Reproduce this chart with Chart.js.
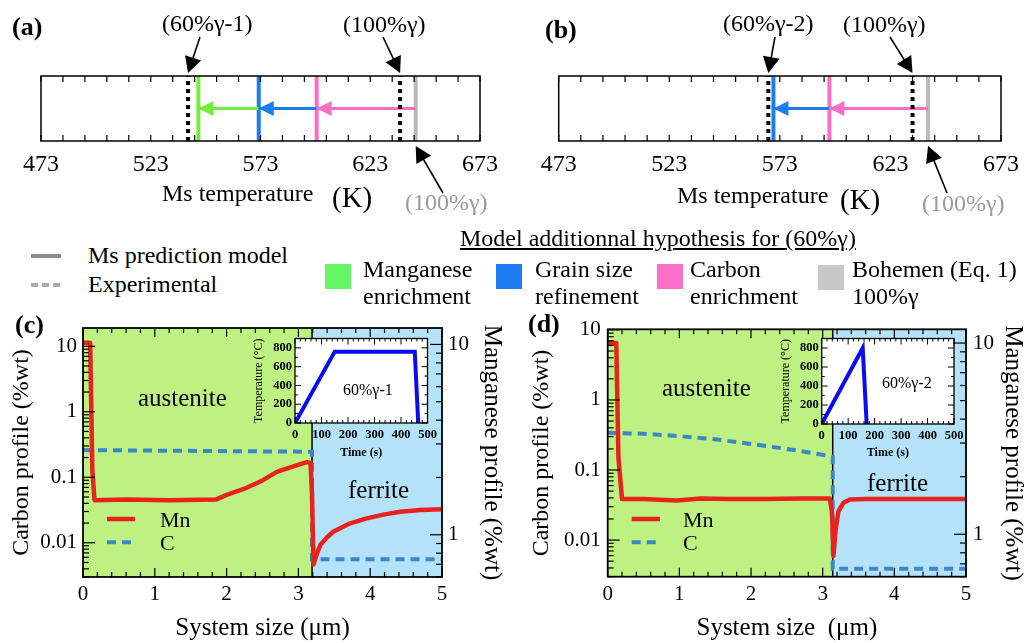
<!DOCTYPE html>
<html lang="en">
<head>
<meta charset="UTF-8">
<title>Ms temperature and composition profiles</title>
<style>
  body { margin: 0; background: #fff; font-family: "Liberation Serif", "Times New Roman", serif; }
  #page { position: relative; width: 1029px; height: 643px; overflow: hidden; background: #fff; }
  canvas { position: absolute; }
  .t { position: absolute; white-space: nowrap; color: #000; z-index: 5; }
  .f24 { font-size: 24px; line-height: 30px; }
  .f25 { font-size: 25px; line-height: 30px; }
  .f22 { font-size: 22px; line-height: 28px; }
  .f29 { font-size: 29px; line-height: 36px; }
  .f16 { font-size: 16px; line-height: 20px; }
  .lbl { font-size: 26px; line-height: 32px; font-weight: bold; }
  .grey { color: #9a9a9a; }
  .two { font-size: 24px; line-height: 27px; }
  .sq { position: absolute; width: 26px; height: 25px; z-index: 5; }
</style>
</head>
<body>
<div id="page">
  <canvas id="chartA" width="515" height="225" style="left:0;top:0"></canvas>
  <canvas id="chartB" width="514" height="225" style="left:515px;top:0"></canvas>
  <canvas id="chartC" width="515" height="343" style="left:0;top:300px"></canvas>
  <canvas id="chartD" width="514" height="343" style="left:515px;top:300px"></canvas>
  <canvas id="insetC" width="195" height="135" style="left:248px;top:328px;z-index:3"></canvas>
  <canvas id="insetD" width="195" height="135" style="left:775px;top:328px;z-index:3"></canvas>

  <!-- panel letters -->
  <div class="t lbl" style="left:12px;top:11px">(a)</div>
  <div class="t lbl" style="left:545px;top:14px">(b)</div>
  <div class="t lbl" style="left:15px;top:309px">(c)</div>
  <div class="t lbl" style="left:528px;top:308px">(d)</div>

  <!-- top panels text -->
  <div class="t f24" style="left:162px;top:8px">(60%γ-1)</div>
  <div class="t f24" style="left:343px;top:9px">(100%γ)</div>
  <div class="t f24" style="left:162px;top:178px">Ms temperature</div>
  <div class="t f29" style="left:332px;top:179px">(K)</div>
  <div class="t f24 grey" style="left:405px;top:187px">(100%γ)</div>

  <div class="t f24" style="left:723px;top:8px">(60%γ-2)</div>
  <div class="t f24" style="left:843px;top:9px">(100%γ)</div>
  <div class="t f24" style="left:677px;top:180px">Ms temperature</div>
  <div class="t f29" style="left:840px;top:181px">(K)</div>
  <div class="t f24 grey" style="left:922px;top:188px">(100%γ)</div>

  <!-- middle legend -->
  <div style="position:absolute;left:31px;top:254px;width:30px;height:4px;background:#8a8a8a"></div>
  <div style="position:absolute;left:31px;top:283px;width:30px;height:4px;background:repeating-linear-gradient(90deg,#aaa 0 7px,transparent 7px 11px)"></div>
  <div class="t f24" style="left:88px;top:240px">Ms prediction model</div>
  <div class="t f24" style="left:88px;top:269px">Experimental</div>
  <div class="t f24" style="left:460px;top:223px;text-decoration:underline">Model additionnal hypothesis for (60%γ)</div>
  <div class="sq" style="left:325px;top:264px;background:#66f566"></div>
  <div class="sq" style="left:496px;top:264px;background:#1c7cf0"></div>
  <div class="sq" style="left:657px;top:264px;background:#fa6ec8"></div>
  <div class="sq" style="left:818px;top:265px;background:#c8c8c8"></div>
  <div class="t two" style="left:363px;top:256px">Manganese<br>enrichment</div>
  <div class="t two" style="left:535px;top:256px">Grain size<br>refinement</div>
  <div class="t two" style="left:690px;top:256px">Carbon<br>enrichment</div>
  <div class="t two" style="left:852px;top:256px">Bohemen (Eq. 1)<br>100%γ</div>

  <!-- profile panels text -->
  <div class="t f25" style="left:138px;top:383px">austenite</div>
  <div class="t f25" style="left:348px;top:475px">ferrite</div>
  <div class="t f22" style="left:160px;top:506px">Mn</div>
  <div class="t f22" style="left:160px;top:529px">C</div>
  <div class="t f16" style="left:343px;top:380px;z-index:6">60%γ-1</div>

  <div class="t f25" style="left:662px;top:373px">austenite</div>
  <div class="t f25" style="left:867px;top:468px">ferrite</div>
  <div class="t f22" style="left:683px;top:506px">Mn</div>
  <div class="t f22" style="left:683px;top:529px">C</div>
  <div class="t f16" style="left:882px;top:373px;z-index:6">60%γ-2</div>
</div>

<script src="https://cdn.jsdelivr.net/npm/chart.js"></script>
<script>
  const FONT = "'Liberation Serif', 'Times New Roman', serif";

  // (a) and (b): Ms temperatures (K)
  const msNames = ['exp60', 'manganese', 'grain', 'carbon', 'exp100', 'bohemen'];
  const msColors = ['#000000', '#73ee3c', '#1c7cf0', '#fa6ec8', '#000000', '#b9b9b9'];
  const msPanelA = [540, 544.7, 572.2, 598.6, 636.6, 643.7];
  const msPanelB = [567.8, null, 570.1, 595.4, 633, 640];
  const msTicks = [473, 523, 573, 623, 673];

  // (c) 60%γ-1 profiles
  const boundaryC = 3.19;
  const mnPosC = [0, 0.1, 0.13, 0.16, 0.6, 1.2, 1.85, 2.0, 2.24, 2.5, 2.7, 2.95, 3.12, 3.17, 3.19, 3.21, 3.26, 3.31, 3.4, 3.49, 3.7, 3.95, 4.2, 4.42, 4.7, 5.0];
  const mnC    = [10.2, 10.2, 2.2, 1.52, 1.53, 1.52, 1.53, 1.62, 1.74, 1.93, 2.14, 2.3, 2.41, 2.38, 1.6, 0.70, 0.80, 0.89, 0.97, 1.04, 1.14, 1.22, 1.28, 1.32, 1.35, 1.36];
  const cPosC  = [0, 3.19, 3.19, 5];
  const cC     = [0.26, 0.245, 0.0056, 0.0056];

  // (d) 60%γ-2 profiles
  const boundaryD = 3.14;
  const mnPosD = [0, 0.12, 0.15, 0.2, 0.5, 0.96, 1.3, 1.7, 2.2, 2.7, 3.1, 3.13, 3.15, 3.18, 3.22, 3.29, 3.38, 3.6, 4.0, 5.0];
  const mnD    = [10, 10, 2.5, 1.53, 1.53, 1.50, 1.54, 1.53, 1.53, 1.54, 1.54, 1.3, 0.77, 1.05, 1.32, 1.46, 1.52, 1.53, 1.53, 1.53];
  const cPosD  = [0, 0.5, 1.0, 1.5, 2.0, 2.5, 2.9, 3.14, 3.14, 5];
  const cD     = [0.34, 0.33, 0.305, 0.275, 0.235, 0.20, 0.172, 0.155, 0.0039, 0.0039];

  // insets: heat treatments
  const timeC = [0, 150, 452, 465];
  const tempC = [0, 760, 760, 0];
  const timeD = [0, 155, 170];
  const tempD = [0, 800, 0];

  Chart.defaults.color = '#000';
  Chart.defaults.font.family = FONT;

  function pts(xs, ys) { return xs.map((x, i) => ({ x: x, y: ys[i] })); }
  function isInt(v, m) { const q = v / (m || 1); return Math.abs(q - Math.round(q)) < 1e-6; }
  function isDecade(v) { const l = Math.log10(v); return Math.abs(l - Math.round(l)) < 1e-6; }
  function logMarks(scale) {
    return scale.ticks.map(t => t.value).filter(v => {
      const e = Math.floor(Math.log10(v) + 1e-9);
      return isInt(v / Math.pow(10, e));
    });
  }

  function arrowHead(ctx, x0, y0, x1, y1, color, len, hw) {
    const a = Math.atan2(y1 - y0, x1 - x0);
    const bx = x1 - len * Math.cos(a), by = y1 - len * Math.sin(a);
    ctx.fillStyle = color;
    ctx.beginPath();
    ctx.moveTo(x1, y1);
    ctx.lineTo(bx + hw * Math.sin(a), by - hw * Math.cos(a));
    ctx.lineTo(bx - hw * Math.sin(a), by + hw * Math.cos(a));
    ctx.closePath();
    ctx.fill();
  }

  function innerTicks(ctx, scale, edge, a, values, major, majLen, minLen) {
    values.forEach(v => {
      const p = scale.getPixelForValue(v);
      const len = major(v) ? majLen : minLen;
      ctx.beginPath();
      if (edge === 'bottom') { ctx.moveTo(p, a.bottom); ctx.lineTo(p, a.bottom - len); }
      else if (edge === 'top') { ctx.moveTo(p, a.top); ctx.lineTo(p, a.top + len); }
      else if (edge === 'left') { ctx.moveTo(a.left, p); ctx.lineTo(a.left + len, p); }
      else { ctx.moveTo(a.right, p); ctx.lineTo(a.right - len, p); }
      ctx.stroke();
    });
  }

  // pointer arrows with the labels (tail in canvas px, tip on the axis value)
  const pointerSets = {
    chartA: [
      { value: msPanelA[0], tail: [200, 37], below: false },
      { value: msPanelA[4], tail: [383, 37], below: false },
      { value: msPanelA[5], tail: [443, 193], below: true }
    ],
    chartB: [
      { value: msPanelB[0], tail: [260, 37], below: false },
      { value: msPanelB[4], tail: [375, 37], below: false },
      { value: msPanelB[5], tail: [432, 193], below: true }
    ]
  };

  const stripDeco = {
    id: 'stripDeco',
    afterDatasetsDraw(chart) {
      const ctx = chart.ctx, a = chart.chartArea, xs = chart.scales.x;
      ctx.save();
      chart.data.datasets.forEach((ds, i) => {
        if (!ds.arrow) return;
        const p = chart.getDatasetMeta(i).data;
        arrowHead(ctx, p[0].x, p[0].y, p[1].x, p[1].y, ds.borderColor, 15, 7.5);
      });
      ctx.strokeStyle = '#000';
      ctx.lineWidth = 1.2;
      const vals = xs.ticks.map(t => t.value);
      innerTicks(ctx, xs, 'bottom', a, vals, () => true, 6, 6);
      innerTicks(ctx, xs, 'top', a, vals, () => true, 6, 6);
      ctx.lineWidth = 1.5;
      ctx.strokeRect(a.left, a.top, a.right - a.left, a.bottom - a.top);
      (pointerSets[chart.canvas.id] || []).forEach(p => {
        const tx = xs.getPixelForValue(p.value);
        const ty = p.below ? a.bottom + 5 : a.top - 3;
        const ang = Math.atan2(ty - p.tail[1], tx - p.tail[0]);
        ctx.strokeStyle = '#000';
        ctx.lineWidth = 1.6;
        ctx.beginPath();
        ctx.moveTo(p.tail[0], p.tail[1]);
        ctx.lineTo(tx - 12 * Math.cos(ang), ty - 12 * Math.sin(ang));
        ctx.stroke();
        arrowHead(ctx, p.tail[0], p.tail[1], tx, ty, '#000', 16, 8.5);
      });
      ctx.restore();
    }
  };

  const msTickMarks = [];
  for (let t = 473; t <= 673; t += 10) msTickMarks.push(t);

  function buildStrip(id, values, pad) {
    const datasets = [];
    values.forEach((v, i) => {
      if (v === null) return;
      const dotted = msNames[i].indexOf('exp') === 0;
      datasets.push({
        label: msNames[i],
        data: [{ x: v, y: 0 }, { x: v, y: 1 }],
        borderColor: msColors[i],
        borderWidth: 4,
        borderDash: dotted ? [4, 4] : [],
        borderCapStyle: 'butt',
        pointRadius: 0,
        order: dotted ? 0 : 2
      });
    });
    // arrows: Bohemen -> carbon -> grain size -> manganese
    const chain = [5, 3, 2, 1].filter(i => values[i] !== null);
    for (let k = 0; k < chain.length - 1; k++) {
      datasets.push({
        label: 'arrow',
        data: [{ x: values[chain[k]], y: 0.5 }, { x: values[chain[k + 1]], y: 0.5 }],
        borderColor: msColors[chain[k + 1]],
        borderWidth: 3,
        pointRadius: 0,
        arrow: true,
        order: 1
      });
    }
    return new Chart(document.getElementById(id), {
      type: 'line',
      data: { datasets: datasets },
      options: {
        responsive: false, animation: false, devicePixelRatio: 1,
        layout: { padding: pad },
        plugins: { legend: { display: false }, tooltip: { enabled: false } },
        scales: {
          x: {
            type: 'linear', min: 473, max: 673,
            afterBuildTicks: s => { s.ticks = msTickMarks.map(v => ({ value: v })); },
            ticks: { autoSkip: false, maxRotation: 0, padding: 9, font: { size: 24 },
                     callback: v => msTicks.includes(v) ? String(v) : '' },
            grid: { display: false, drawTicks: false },
            border: { display: false },
            afterFit: s => { s.height = 84; }
          },
          y: { type: 'linear', min: 0, max: 1, display: false }
        }
      },
      plugins: [stripDeco]
    });
  }

  buildStrip('chartA', msPanelA, { left: 41, right: 35, top: 76, bottom: 0 });
  buildStrip('chartB', msPanelB, { left: 43.7, right: 28, top: 76, bottom: 0 });

  // (c) and (d)
  const profileCfg = {
    chartC: { boundary: boundaryC, legendX: [107, 135] },
    chartD: { boundary: boundaryD, legendX: [116.7, 145] }
  };

  const profileDeco = {
    id: 'profileDeco',
    beforeDatasetsDraw(chart) {
      const cfg = profileCfg[chart.canvas.id];
      const ctx = chart.ctx, a = chart.chartArea;
      const xb = chart.scales.x.getPixelForValue(cfg.boundary);
      ctx.save();
      ctx.fillStyle = '#bdf283';
      ctx.fillRect(a.left, a.top, xb - a.left, a.bottom - a.top);
      ctx.fillStyle = '#b4e2f8';
      ctx.fillRect(xb, a.top, a.right - xb, a.bottom - a.top);
      ctx.strokeStyle = '#000';
      ctx.lineWidth = 1.5;
      ctx.beginPath();
      ctx.moveTo(xb, a.top);
      ctx.lineTo(xb, a.bottom);
      ctx.stroke();
      ctx.restore();
    },
    afterDatasetsDraw(chart) {
      const cfg = profileCfg[chart.canvas.id];
      const ctx = chart.ctx, a = chart.chartArea, s = chart.scales;
      ctx.save();
      ctx.strokeStyle = '#000';
      ctx.lineWidth = 1.2;
      const xv = s.x.ticks.map(t => t.value);
      innerTicks(ctx, s.x, 'bottom', a, xv, v => isInt(v), 9, 5);
      innerTicks(ctx, s.x, 'top', a, xv, v => isInt(v), 9, 5);
      innerTicks(ctx, s.y, 'left', a, logMarks(s.y), isDecade, 12, 6);
      innerTicks(ctx, s.y2, 'right', a, logMarks(s.y2), isDecade, 12, 6);
      ctx.lineWidth = 1.8;
      ctx.strokeRect(a.left, a.top, a.right - a.left, a.bottom - a.top);
      // legend samples
      const ds = chart.data.datasets;
      const lx = cfg.legendX;
      [219, 242.3].forEach((y, i) => {
        ctx.strokeStyle = ds[i].borderColor;
        ctx.lineWidth = ds[i].borderWidth;
        ctx.setLineDash(ds[i].borderDash || []);
        ctx.beginPath();
        ctx.moveTo(lx[0], y);
        ctx.lineTo(lx[1], y);
        ctx.stroke();
      });
      ctx.restore();
    }
  };

  const logLabel = v => isDecade(v) ? String(+v.toPrecision(1)) : '';

  function buildProfile(id, d) {
    return new Chart(document.getElementById(id), {
      type: 'line',
      data: { datasets: [
        { label: 'Mn', data: pts(d.mnPos, d.mn), yAxisID: 'y2', borderColor: '#e8221e', borderWidth: 4.5,
          pointRadius: 0, borderJoinStyle: 'round', tension: 0 },
        { label: 'C', data: pts(d.cPos, d.c), yAxisID: 'y', borderColor: '#3f86c6', borderWidth: 4,
          borderDash: [9, 6], pointRadius: 0, tension: 0 }
      ] },
      options: {
        responsive: false, animation: false, devicePixelRatio: 1,
        layout: { padding: { top: d.top, left: 0, right: 0, bottom: 0 } },
        plugins: { legend: { display: false }, tooltip: { enabled: false } },
        scales: {
          x: {
            type: 'linear', min: 0, max: 5,
            ticks: { stepSize: 0.2, autoSkip: false, maxRotation: 0, padding: 5, font: { size: 21 },
                     callback: v => isInt(v) ? String(Math.round(v)) : '' },
            grid: { display: false, drawTicks: false }, border: { display: false },
            title: { display: true, text: d.xTitle, font: { size: 25 }, padding: { top: 0, bottom: 0 } },
            afterFit: s => { s.height = d.xH; }
          },
          y: {
            type: 'logarithmic', position: 'left', min: d.cMin, max: d.cMax,
            ticks: { autoSkip: false, padding: d.lPad, font: { size: 21 }, callback: logLabel },
            grid: { display: false, drawTicks: false }, border: { display: false },
            title: { display: true, text: 'Carbon profile (%wt)', font: { size: 24 }, padding: { top: d.lTitle, bottom: 0 } },
            afterFit: s => { s.width = d.lW; }
          },
          y2: {
            type: 'logarithmic', position: 'right', min: d.mnMin, max: d.mnMax,
            ticks: { autoSkip: false, padding: d.rPad, font: { size: 21 }, callback: logLabel },
            grid: { display: false, drawTicks: false }, border: { display: false },
            title: { display: true, text: 'Manganese profile (%wt)', font: { size: 25 }, padding: { top: d.rTitle, bottom: 0 } },
            afterFit: s => { s.width = d.rW; }
          }
        }
      },
      plugins: [profileDeco]
    });
  }

  buildProfile('chartC', {
    mnPos: mnPosC, mn: mnC, cPos: cPosC, c: cC,
    top: 28, xH: 66, lW: 83, rW: 73, lTitle: 7.6, rTitle: 8.3, lPad: 6, rPad: 6,
    cMin: 0.003, cMax: 19, mnMin: 0.614, mnMax: 12.2, xTitle: 'System size (μm)'
  });
  buildProfile('chartD', {
    mnPos: mnPosD, mn: mnD, cPos: cPosD, c: cD,
    top: 29.3, xH: 66.3, lW: 92.7, rW: 63, lTitle: 12.3, rTitle: 1, lPad: 7, rPad: 7,
    cMin: 0.003, cMax: 10.2, mnMin: 0.62, mnMax: 11.8, xTitle: 'System size  (μm)'
  });

  // insets
  const insetDeco = {
    id: 'insetDeco',
    beforeDatasetsDraw(chart) {
      const a = chart.chartArea, ctx = chart.ctx;
      ctx.save();
      ctx.fillStyle = '#fff';
      ctx.fillRect(a.left, a.top, a.right - a.left, a.bottom - a.top);
      ctx.restore();
    },
    afterDatasetsDraw(chart) {
      const a = chart.chartArea, ctx = chart.ctx, s = chart.scales;
      ctx.save();
      ctx.strokeStyle = '#000';
      ctx.lineWidth = 1;
      const xv = s.x.ticks.map(t => t.value), yv = s.y.ticks.map(t => t.value);
      innerTicks(ctx, s.x, 'bottom', a, xv, v => isInt(v, 100), 6, 3);
      innerTicks(ctx, s.x, 'top', a, xv, v => isInt(v, 100), 6, 3);
      innerTicks(ctx, s.y, 'left', a, yv, v => isInt(v, 200), 6, 3);
      innerTicks(ctx, s.y, 'right', a, yv, v => isInt(v, 200), 6, 3);
      ctx.lineWidth = 1.3;
      ctx.strokeRect(a.left, a.top, a.right - a.left, a.bottom - a.top);
      ctx.restore();
    }
  };

  function buildInset(id, time, temp, d) {
    return new Chart(document.getElementById(id), {
      type: 'line',
      data: { datasets: [{ label: 'T', data: pts(time, temp), borderColor: '#0b0bf0', borderWidth: 4,
                           pointRadius: 0, tension: 0, borderJoinStyle: 'miter' }] },
      options: {
        responsive: false, animation: false, devicePixelRatio: 1,
        layout: { padding: { top: d.top, right: d.right, left: 0, bottom: 0 } },
        plugins: { legend: { display: false }, tooltip: { enabled: false } },
        scales: {
          x: {
            type: 'linear', min: 0, max: 500,
            ticks: { stepSize: 20, autoSkip: false, maxRotation: 0, padding: 4, font: { size: 12.5, weight: 'bold' },
                     callback: v => isInt(v, 100) ? String(v) : '' },
            grid: { display: false, drawTicks: false }, border: { display: false },
            title: { display: true, text: 'Time (s)', font: { size: 12, weight: 'bold' }, padding: { top: 0, bottom: 2.5 } },
            afterFit: s => { s.height = d.xH; }
          },
          y: {
            type: 'linear', min: 0, max: 900,
            ticks: { stepSize: 100, autoSkip: false, padding: 3, font: { size: 12.5, weight: 'bold' },
                     callback: v => (isInt(v, 200) && v <= 800) ? String(v) : '' },
            grid: { display: false, drawTicks: false }, border: { display: false },
            title: { display: true, text: 'Temperature (°C)', font: { size: 12 }, padding: { top: 3.8, bottom: 0 } },
            afterFit: s => { s.width = d.yW; }
          }
        }
      },
      plugins: [insetDeco]
    });
  }

  buildInset('insetC', timeC, tempC, { top: 10, right: 15.5, xH: 40, yW: 47 });
  buildInset('insetD', timeD, tempD, { top: 9.7, right: 16, xH: 39, yW: 46.7 });
</script>
</body>
</html>
